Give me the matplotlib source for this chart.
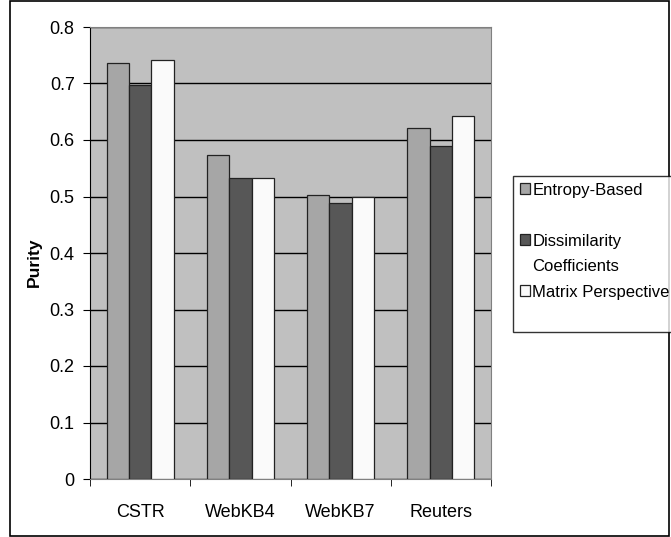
import matplotlib.pyplot as plt
import numpy as np
from matplotlib.patches import Rectangle

plt.rcParams['font.family'] = ['Liberation Sans', 'DejaVu Sans']

datasets = ['CSTR', 'WebKB4', 'WebKB7', 'Reuters']
entropyBased = [0.736, 0.573, 0.503, 0.622]
dissimilarity = [0.697, 0.533, 0.489, 0.590]
matrixPerspective = [0.742, 0.533, 0.500, 0.642]
seriesNames = ['Entropy-Based', 'Dissimilarity Coefficients', 'Matrix Perspective']
seriesColors = ['#a6a6a6', '#575757', '#fafafa']

fig = plt.figure(figsize=(6.71, 5.37), dpi=100)
ax = fig.add_axes([90 / 671, 58 / 537, 401 / 671, 452 / 537])
ax.set_facecolor('#c0c0c0')

x = np.arange(len(datasets))
width = 0.223
allSeries = [entropyBased, dissimilarity, matrixPerspective]
bars = []
for i, (values, name, color) in enumerate(zip(allSeries, seriesNames, seriesColors)):
    b = ax.bar(x + (i - 1) * width, values, width, color=color, edgecolor='#222222',
               linewidth=0.9, label=name, zorder=3)
    bars.append(b)

ax.set_ylim(0, 0.8)
ax.set_xlim(-0.5, 3.5)
ax.set_yticks(np.arange(0, 0.81, 0.1))
ax.set_yticklabels(['0', '0.1', '0.2', '0.3', '0.4', '0.5', '0.6', '0.7', '0.8'], fontsize=13)
ax.yaxis.grid(True, color='black', linewidth=1, zorder=1)
ax.set_axisbelow(True)

ax.set_xticks(x)
ax.set_xticklabels(datasets, fontsize=13)
ax.tick_params(axis='x', length=0, pad=18)
ax.set_xticks(np.arange(-0.5, 4, 1), minor=True)
ax.tick_params(axis='x', which='minor', length=5, direction='out', color='black')
ax.tick_params(axis='y', length=5, direction='out', color='black', pad=6)

for side in ['top', 'right']:
    ax.spines[side].set_color('#808080')
ax.spines['left'].set_color('black')
ax.spines['bottom'].set_color('#808080')

ax.set_ylabel('Purity', fontsize=12.5, fontweight='bold')
ax.yaxis.set_label_coords(-0.12, 0.48)

# blank entries mimic the spacing of the original legend,
# the second series label is split so its square sits on the first line
blank = Rectangle((0, 0), 1, 1, visible=False)
handles = [bars[0], blank, bars[1], blank, bars[2], blank]
labels = [seriesNames[0], ' ', 'Dissimilarity', 'Coefficients', seriesNames[2], ' ']
legend = fig.legend(handles, labels, loc='upper left', bbox_to_anchor=(513 / 671, 1 - 176 / 537),
                    fontsize=12, frameon=True, fancybox=False, edgecolor='black',
                    handlelength=0.6, handleheight=0.6, handletextpad=0.15,
                    labelspacing=0.63, borderpad=0.4, borderaxespad=0)
legend.get_frame().set_linewidth(1)

fig.patches.append(Rectangle((10 / 671, 1 / 537), 659 / 671, 535 / 537,
                             transform=fig.transFigure, fill=False,
                             edgecolor='black', linewidth=1.2))

plt.savefig('out.png', dpi=100)
